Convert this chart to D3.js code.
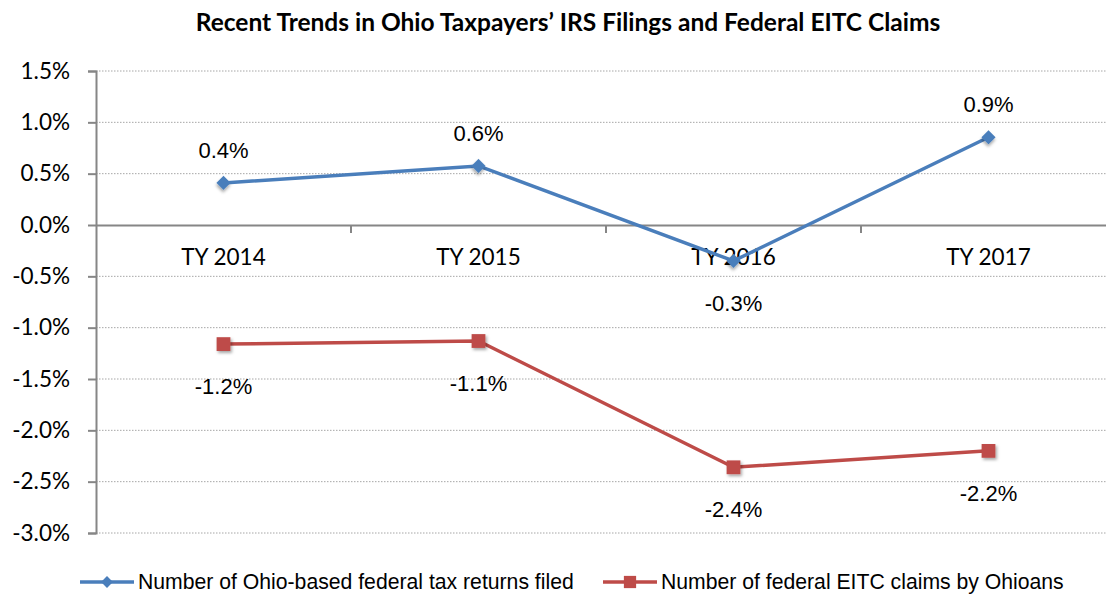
<!DOCTYPE html>
<html>
<head>
<meta charset="utf-8">
<script src="https://cdn.jsdelivr.net/npm/d3@7"></script>
<style>
  body { margin: 0; background: #fff; }
  .tick-lbl { font-family: Lato, "Open Sans", sans-serif; font-size: 22.5px; fill: #000; }
  .data-lbl { font-family: "Liberation Sans", Arial, sans-serif; font-size: 22px; fill: #000; }
  .legend { font-family: "Liberation Sans", Arial, sans-serif; font-size: 21.2px; fill: #000; }
  .title { font-family: Lato, "Open Sans", sans-serif; font-size: 24.5px; font-weight: bold; fill: #000; }
</style>
</head>
<body>
<svg id="chart"></svg>
<script>
// chart data
var years = ["TY 2014", "TY 2015", "TY 2016", "TY 2017"];
var returnsFiled = [0.41, 0.575, -0.35, 0.855];
var eitcClaims = [-1.16, -1.13, -2.36, -2.20];
var yTicks = [1.5, 1.0, 0.5, 0.0, -0.5, -1.0, -1.5, -2.0, -2.5, -3.0];
var seriesNames = ["Number of Ohio-based federal tax returns filed", "Number of federal EITC claims by Ohioans"];

var W = 1106, H = 595;
var margin = {left: 96, top: 71};
var plotW = 1020, plotH = 462;

var svg = d3.select("#chart").attr("width", W).attr("height", H);

var defs = svg.append("defs");
var f = defs.append("filter").attr("id", "shadow").attr("x", "-50%").attr("y", "-50%").attr("width", "200%").attr("height", "200%");
f.append("feDropShadow").attr("dx", 1.5).attr("dy", 2).attr("stdDeviation", 1.5).attr("flood-color", "#000").attr("flood-opacity", 0.35);

// title
svg.append("text")
  .attr("class", "title")
  .attr("x", 568).attr("y", 31)
  .attr("text-anchor", "middle")
  .text("Recent Trends in Ohio Taxpayers\u2019 IRS Filings and Federal EITC Claims");

var g = svg.append("g").attr("transform", "translate(" + margin.left + "," + margin.top + ")");

var x = d3.scaleBand().domain(years).range([0, plotW]);
var y = d3.scaleLinear().domain([-3, 1.5]).range([plotH, 0]);

// gridlines
g.selectAll(".grid")
  .data(yTicks.filter(d => d !== 0))
  .enter().append("line")
  .attr("x1", 0).attr("x2", plotW)
  .attr("y1", d => y(d)).attr("y2", d => y(d))
  .attr("stroke", "#a6a6a6")
  .attr("stroke-width", 1)
  .attr("stroke-dasharray", "1.5,1.5");

// y axis
var yAxis = g.append("g")
  .call(d3.axisLeft(y).tickValues(yTicks).tickSize(8).tickPadding(18).tickFormat(d => d.toFixed(1) + "%"));
yAxis.select(".domain").attr("stroke", "#868686").attr("stroke-width", 2);
yAxis.selectAll(".tick line").attr("stroke", "#868686").attr("stroke-width", 2);
yAxis.selectAll(".tick text").attr("class", "tick-lbl").attr("font-family", null).attr("font-size", null);

// zero line with category axis
var xAxis = g.append("g")
  .attr("transform", "translate(0," + y(0) + ")")
  .call(d3.axisBottom(x).tickSize(0).tickPadding(24));
xAxis.select(".domain").attr("stroke", "#868686").attr("stroke-width", 2);
xAxis.selectAll(".tick text").attr("class", "tick-lbl").attr("font-family", null).attr("font-size", null);
g.selectAll(".cat-tick")
  .data(years.slice(1))
  .enter().append("line")
  .attr("x1", d => x(d)).attr("x2", d => x(d))
  .attr("y1", y(0)).attr("y2", y(0) + 8)
  .attr("stroke", "#868686").attr("stroke-width", 2);

var series = [
  {name: seriesNames[0], values: returnsFiled, color: "#4a7ebb", rot: 45, size: 100},
  {name: seriesNames[1], values: eitcClaims, color: "#be4b48", rot: 0, size: 190}
];

var line = d3.line()
  .x((d, i) => x(years[i]) + x.bandwidth() / 2)
  .y(d => y(d));

series.forEach(function(s) {
  g.append("path")
    .datum(s.values)
    .attr("fill", "none")
    .attr("stroke", s.color)
    .attr("stroke-width", 3.5)
    .attr("d", line);

  g.selectAll(null)
    .data(s.values)
    .enter().append("path")
    .attr("d", d3.symbol().type(d3.symbolSquare).size(s.size))
    .attr("transform", (d, i) => "translate(" + (x(years[i]) + x.bandwidth() / 2) + "," + y(d) + ") rotate(" + s.rot + ")")
    .attr("fill", s.color)
    .attr("filter", "url(#shadow)");

  g.selectAll(null)
    .data(s.values)
    .enter().append("text")
    .attr("class", "data-lbl")
    .attr("text-anchor", "middle")
    .attr("x", (d, i) => x(years[i]) + x.bandwidth() / 2)
    .attr("y", d => d >= 0 ? y(d) - 33 : y(d) + 42)
    .attr("dy", "0.35em")
    .text(d => d.toFixed(1) + "%");
});

// legend
var legendPos = [80, 603];
series.forEach(function(s, i) {
  var lx = legendPos[i], ly = 582;
  svg.append("line")
    .attr("x1", lx).attr("x2", lx + 54)
    .attr("y1", ly).attr("y2", ly)
    .attr("stroke", s.color).attr("stroke-width", 3.5);
  svg.append("path")
    .attr("d", d3.symbol().type(d3.symbolSquare).size(s.rot ? 70 : 150))
    .attr("transform", "translate(" + (lx + 27) + "," + ly + ") rotate(" + s.rot + ")")
    .attr("fill", s.color);
  svg.append("text")
    .attr("class", "legend")
    .attr("x", lx + 58).attr("y", ly)
    .attr("dy", "0.35em")
    .text(s.name);
});
</script>
</body>
</html>
